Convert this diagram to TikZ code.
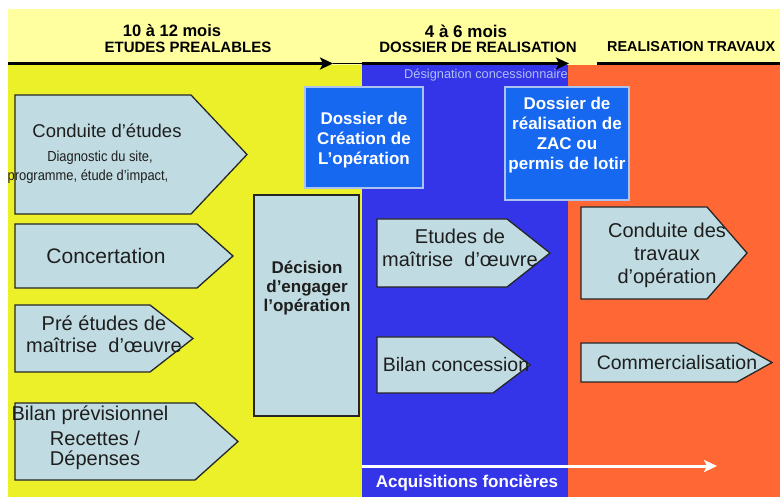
\documentclass[tikz,border=0pt]{standalone}
\usepackage{fontspec}
\setmainfont{Liberation Sans}
\usetikzlibrary{arrows.meta}
\definecolor{paleY}{RGB}{255,255,160}
\definecolor{mainY}{RGB}{236,240,40}
\definecolor{zoneB}{RGB}{52,52,232}
\definecolor{zoneO}{RGB}{255,104,52}
\definecolor{boxC}{RGB}{192,220,226}
\definecolor{dossB}{RGB}{22,104,240}
\definecolor{dossE}{RGB}{170,195,240}
\definecolor{desigC}{RGB}{175,190,240}
\definecolor{txtC}{RGB}{30,30,30}
\newcommand\pentagone[5]{%
  \draw[penta] (#1,#2) -- (#3,#2) -- (#4,{(#2+#5)/2}) -- (#3,#5) -- (#1,#5) -- cycle;}
\begin{document}
\begin{tikzpicture}[x=1pt,y=-1pt,
  penta/.style={draw=black!85, line width=1.3pt, fill=boxC, line join=miter},
  lbl/.style={inner sep=0pt, align=center, text=txtC},
  reg/.style={lbl, font=\fontsize{20}{23}\selectfont},
  small/.style={lbl, font=\fontsize{14.5}{16}\selectfont, xscale=0.89, transform shape},
  head/.style={inner sep=0pt, align=center, text=black, font=\bfseries\fontsize{15}{18}\selectfont},
  dossbox/.style={fill=dossB, draw=dossE, line width=1.5pt},
  dosstxt/.style={inner sep=0pt, align=center, text=white, font=\bfseries\fontsize{17}{20}\selectfont},
  timeline/.style={line width=3pt, black}]
\clip (0,0) rectangle (780,497);
\fill[white] (0,0) rectangle (780,497);
% bands
\fill[paleY] (8,9) rectangle (780,65);
\fill[mainY] (8,65) rectangle (362,497);
\fill[zoneB] (362,65) rectangle (568,497);
\fill[zoneO] (568,65) rectangle (780,497);
% timeline
\coordinate (t1s) at (8,63.5);
\coordinate (t1e) at (333,63.5);
\coordinate (t2s) at (362,63.5);
\coordinate (t2e) at (569,63.5);
\coordinate (t3s) at (597,63.5);
\coordinate (t3e) at (780,63.5);
\draw[line width=1pt] (t1e) -- (t2s);
\draw[timeline, -{Stealth[length=13pt,width=12pt,inset=3pt]}] (t1s) -- (t1e);
\draw[timeline, -{Stealth[length=13pt,width=12pt,inset=3pt]}] (t2s) -- (t2e);
\draw[timeline] (t3s) -- (t3e);
% headings
\node[head, font=\bfseries\fontsize{16.5}{19}\selectfont] (h1a) at (172,31) {10 à 12 mois};
\node[head] (h1b) at (188,47) {ETUDES PREALABLES};
\node[head, font=\bfseries\fontsize{17}{19}\selectfont] (h2a) at (466,31) {4 à 6 mois};
\node[head] (h2b) at (478,47) {DOSSIER DE REALISATION};
\node[head, anchor=west, font=\bfseries\fontsize{14.4}{18}\selectfont] (h3b) at (607,47) {REALISATION TRAVAUX};
\node[inner sep=0pt, text=desigC, font=\fontsize{12.8}{15}\selectfont] (desig) at (486,75) {Désignation concessionnaire};
% pentagons (yellow zone)
\pentagone{15}{95}{191}{247}{214}
\node[lbl, font=\fontsize{18.5}{22}\selectfont] (ce) at (107,131) {Conduite d’études};
\node[small] (ce2) at (100,158) {Diagnostic du site,};
\node[small] (ce3) at (88,177) {programme, étude d’impact,};
\pentagone{15}{224}{197}{233}{288}
\node[lbl, font=\fontsize{21}{24}\selectfont] (conc) at (106,256) {Concertation};
\pentagone{15}{305}{150}{193}{372}
\node[reg, font=\fontsize{20}{22}\selectfont] (pre) at (104,334) {Pré études de\\maîtrise\ \ d’œuvre};
\pentagone{15}{403}{195}{238}{480}
\node[lbl, font=\fontsize{20}{23}\selectfont] (bil) at (90,415) {Bilan prévisionnel};
\node[reg, font=\fontsize{20}{20}\selectfont] (rec) at (95,450) {Recettes /\\Dépenses};
% decision
\draw[draw=black!85, line width=1.5pt, fill=boxC] (254,195) rectangle (359,416);
\node[lbl, font=\bfseries\fontsize{17}{19}\selectfont] (dec) at (307,288) {Décision\\d’engager\\l’opération};
% dossier boxes
\draw[dossbox] (305,87) rectangle (423,188);
\node[dosstxt] (dc) at (364,140) {Dossier de\\Création de\\L’opération};
\draw[dossbox] (505,87) rectangle (629,200);
\node[dosstxt] (dr) at (567,135) {Dossier de\\réalisation de\\ZAC ou\\permis de lotir};
% blue zone pentagons
\pentagone{377}{219}{507}{550}{287}
\node[reg] (emo) at (460,248) {Etudes de\\maîtrise\ \ d’œuvre};
\pentagone{377}{337}{493}{530}{393}
\node[lbl, font=\fontsize{19.5}{22}\selectfont] (bc) at (456,365) {Bilan concession};
% orange zone pentagons
\pentagone{581}{207}{707}{747}{299}
\node[reg] (ct) at (667,255) {Conduite des\\travaux\\d’opération};
\pentagone{581}{343}{737}{772}{382}
\node[lbl, font=\fontsize{19.5}{22}\selectfont] (com) at (677,363) {Commercialisation};
% acquisitions
\coordinate (as) at (362,466);
\coordinate (ae) at (717,466);
\draw[white, line width=3pt, -{Stealth[length=13pt,width=12pt,inset=3pt]}] (as) -- (ae);
\node[inner sep=0pt, text=white, font=\bfseries\fontsize{17}{19}\selectfont] (acq) at (467,483) {Acquisitions foncières};
\end{tikzpicture}
\end{document}
